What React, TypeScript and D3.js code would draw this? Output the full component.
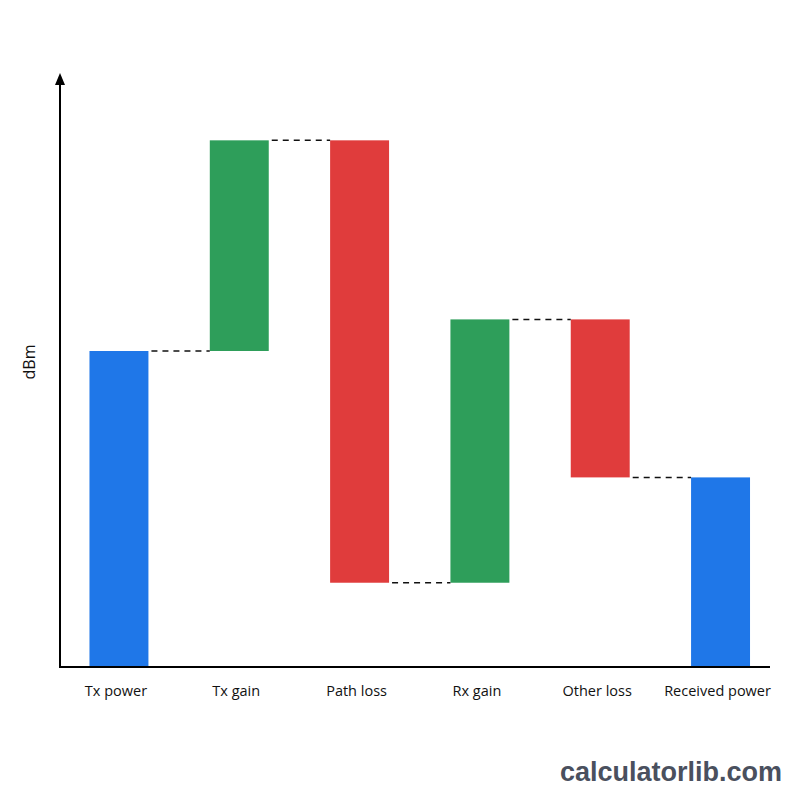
import React from "react";
import * as d3 from "d3";

const categories = ["Tx power", "Tx gain", "Path loss", "Rx gain", "Other loss", "Received power"];
const deltas = [30, 20, -42, 25, -15, 18];
const kinds = ["total", "gain", "loss", "gain", "loss", "total"];
const yLabel = "dBm";
const watermark = "calculatorlib.com";

const colors: Record<string, string> = { total: "#1f77e8", gain: "#2e9e5a", loss: "#e03c3c" };

export default function App() {
  const W = 800, H = 800;
  const x0 = 60, x1 = 770, yBase = 667, yTop = 75;
  const x = d3.scaleBand<string>().domain(categories).range([60, 779.5]).paddingInner(0.51).paddingOuter(0.245);
  const y = d3.scaleLinear().domain([0, 30]).range([yBase, 351]);

  let running = 0;
  const bars = categories.map((c, i) => {
    let lo: number, hi: number;
    if (kinds[i] === "total") {
      lo = 0; hi = deltas[i]; running = deltas[i];
    } else {
      const start = running;
      running = start + deltas[i];
      lo = Math.min(start, running); hi = Math.max(start, running);
    }
    return { c, lo, hi, end: running, kind: kinds[i] };
  });

  return (
    <svg width={W} height={H} style={{ display: "block", margin: "-8px", background: "#fff" }}>
      <rect width={W} height={H} fill="#fff" />
      {bars.map((b) => (
        <rect key={b.c} x={x(b.c)} y={y(b.hi)} width={x.bandwidth()} height={y(b.lo) - y(b.hi)} fill={colors[b.kind]} />
      ))}
      {bars.slice(0, -1).map((b, i) => (
        <line key={"d" + i} x1={(x(b.c) as number) + x.bandwidth() + 3} x2={x(categories[i + 1]) as number}
          y1={y(b.end)} y2={y(b.end)} stroke="#111" strokeWidth={1.5} strokeDasharray="6,5" />
      ))}
      <line x1={x0} x2={x0} y1={yBase + 1} y2={yTop + 8} stroke="#000" strokeWidth={2} />
      <path d={`M${x0},${yTop - 2} L${x0 - 5},${yTop + 10} L${x0 + 5},${yTop + 10} Z`} fill="#000" />
      <line x1={x0 - 1} x2={x1} y1={yBase} y2={yBase} stroke="#000" strokeWidth={2} />
      {categories.map((c) => (
        <text key={"t" + c} x={(x(c) as number) + x.bandwidth() / 2 - 3} y={696} textAnchor="middle"
          fontFamily="'Open Sans', sans-serif" fontSize={14.5} fill="#111">{c}</text>
      ))}
      <text transform={`translate(35,362) rotate(-90)`} textAnchor="middle" fontFamily="'Open Sans', sans-serif" fontSize={16} fill="#111">{yLabel}</text>
      <text x={782} y={781} textAnchor="end" fontFamily="'Liberation Sans', Arial, sans-serif" fontWeight="bold" fontSize={27} fill="#4a505e">{watermark}</text>
    </svg>
  );
}
